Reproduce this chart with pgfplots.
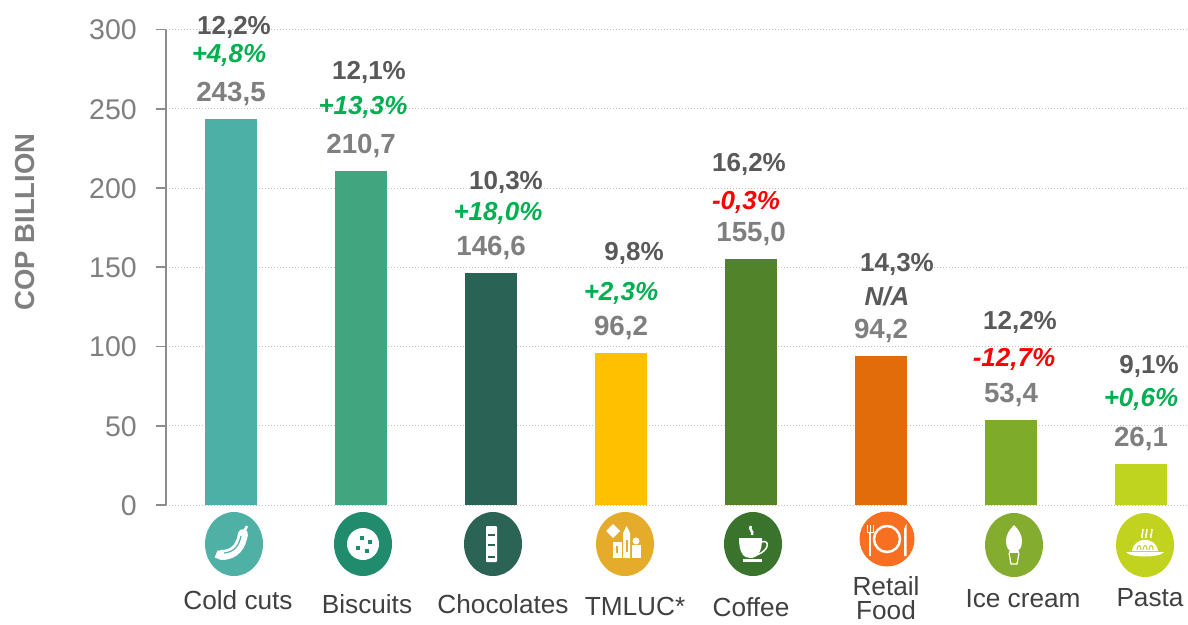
\documentclass[border=0pt]{standalone}
\usepackage{fontspec}
\setmainfont{Liberation Sans}
\usepackage{pgfplots}
\pgfplotsset{compat=1.18}
\definecolor{valgrey}{HTML}{7F7F7F}
\definecolor{pctgrey}{HTML}{595959}
\definecolor{catgrey}{HTML}{404040}
\definecolor{posgreen}{HTML}{00B050}
\newcommand{\fs}[1]{\fontsize{#1}{#1}\selectfont}
\newcommand{\share}[3]{\node[text=pctgrey,font=\bfseries\fs{26}] at (#1,#2+2) {#3};}
\newcommand{\chg}[4]{\node[text=#4,font=\bfseries\itshape\fs{26}] at (#1,#2+2) {#3};}
\newcommand{\cat}[3]{\node[text=catgrey,font=\fs{26.2},inner sep=0pt] at (#1,#2) {#3};}
\begin{document}
\begin{tikzpicture}
\useasboundingbox (0pt,0pt) rectangle (1188pt,-624pt);
\begin{axis}[
  at={(166pt,-505pt)}, anchor=south west,
  scale only axis, width=1022pt, height=475.5pt,
  xmin=-0.5, xmax=7.3615, ymin=0, ymax=300,
  clip=false,
  axis x line*=bottom, axis y line*=left,
  x axis line style={-, draw=black!25, line width=1pt, dotted},
  y axis line style={-, draw=black!45, line width=1.6pt},
  xtick=\empty,
  ytick={0,50,100,150,200,250,300},
  ymajorgrids,
  grid style={draw=black!25, line width=1pt, dotted},
  ytick style={draw=black!45, line width=1.6pt},
  tick align=outside, major tick length=10pt,
  /pgf/number format/assume math mode=true,
  yticklabel style={text=valgrey, font=\fs{28.5}, inner sep=0pt, xshift=-19pt, yshift=-0.5pt},
  ybar, bar shift=0pt, bar width=52pt,
  nodes near coords,
  every node near coord/.append style={
    anchor=center, yshift=25pt, text=valgrey, font=\bfseries\fs{27.7},
    /pgf/number format/fixed, /pgf/number format/fixed zerofill,
    /pgf/number format/precision=1, /pgf/number format/use comma},
]
\addplot[draw=none, fill={rgb,255:red,77;green,176;blue,166}] coordinates {(0,243.5)};
\addplot[draw=none, fill={rgb,255:red,65;green,165;blue,128}] coordinates {(1,210.7)};
\addplot[draw=none, fill={rgb,255:red,42;green,99;blue,86}] coordinates {(2,146.6)};
\addplot[draw=none, fill={rgb,255:red,255;green,192;blue,0}] coordinates {(3,96.2)};
\addplot[draw=none, fill={rgb,255:red,81;green,131;blue,42}] coordinates {(4,155.0)};
\addplot[draw=none, fill={rgb,255:red,227;green,108;blue,10}] coordinates {(5,94.2)};
\addplot[draw=none, fill={rgb,255:red,127;green,171;blue,43}] coordinates {(6,53.4)};
\addplot[draw=none, fill={rgb,255:red,190;green,212;blue,30}] coordinates {(7,26.1)};
\end{axis}
\begin{scope}[x=1pt,y=-1pt]
\node[rotate=90,text=valgrey,font=\bfseries\fs{27.5}] at (25,222) {COP BILLION};
% shares
\share{234}{25}{12,2\%}
\share{369}{70}{12,1\%}
\share{506}{180}{10,3\%}
\share{634}{251}{9,8\%}
\share{749}{162}{16,2\%}
\share{897}{262}{14,3\%}
\share{1020}{320}{12,2\%}
\share{1149}{364}{9,1\%}
% changes
\chg{229}{53}{+4,8\%}{posgreen}
\chg{363}{105}{+13,3\%}{posgreen}
\chg{498}{211}{+18,0\%}{posgreen}
\chg{621}{291}{+2,3\%}{posgreen}
\chg{746}{200}{-0,3\%}{red}
\chg{887}{294}{N/A}{pctgrey}
\chg{1014}{357}{-12,7\%}{red}
\chg{1141}{397}{+0,6\%}{posgreen}
% categories
\cat{238}{600}{Cold cuts}
\cat{367}{604}{Biscuits}
\cat{503}{604}{Chocolates}
\cat{635}{606}{TMLUC*}
\cat{751}{607}{Coffee}
\cat{886}{586}{Retail}
\cat{886}{610}{Food}
\cat{1023}{599}{Ice cream}
\cat{1150}{598}{Pasta}
% icon discs
\fill[fill={rgb,255:red,79;green,176;blue,165}] (234,544) ellipse (29 and 32);
\fill[fill={rgb,255:red,33;green,139;blue,110}] (363,544) ellipse (29 and 32);
\fill[fill={rgb,255:red,43;green,99;blue,85}] (493,544) ellipse (29 and 32);
\fill[fill={rgb,255:red,229;green,172;blue,43}] (625,544) ellipse (29 and 32);
\fill[fill={rgb,255:red,58;green,115;blue,44}] (753,544) ellipse (29 and 32);
\fill[fill={rgb,255:red,247;green,112;blue,33}] (887,539) ellipse (27.5 and 27.5);
\fill[fill={rgb,255:red,132;green,172;blue,46}] (1014,545) ellipse (29 and 32);
\fill[fill={rgb,255:red,193;green,210;blue,31}] (1145,545) ellipse (29 and 32);
% sausage
\draw[white,line width=10pt,line cap=round] (221,555) .. controls (236,555) and (241,545) .. (243,534);
\draw[white,line width=2.5pt] (244,532) -- (247,526);
\draw[white,line width=3pt] (219,551) -- (216,558);
\draw[draw={rgb,255:red,79;green,176;blue,165},line width=1.2pt] (224,553) .. controls (234,552) and (239,546) .. (241,536);
% cookie
\fill[white] (363,544) circle (16);
\foreach \a/\b in {362/538,370/542,358/548,367/551}
  \fill[fill={rgb,255:red,33;green,139;blue,110}] (\a-2,\b-2) rectangle (\a+2,\b+2);
% chocolate bar
\fill[white,rounded corners=1pt] (486,526) rectangle (497,562);
\foreach \b in {535,545,557}
  \fill[fill={rgb,255:red,43;green,99;blue,85}] (488,\b-1) rectangle (495,\b+1);
% TMLUC boxes
\fill[white] (613,524) -- (620,531) -- (613,538) -- (606,531) -- cycle;
\fill[white] (613,542) rectangle (622,558);
\fill[white] (623,533) -- (626.5,526) -- (630,533) -- (630,558) -- (623,558) -- cycle;
\fill[white] (636,541) circle (3.5);
\fill[white] (632,545) rectangle (641,558);
\fill[fill={rgb,255:red,229;green,172;blue,43}] (625.5,540) rectangle (627.5,552);
\fill[fill={rgb,255:red,229;green,172;blue,43}] (616,546) rectangle (618,553);
% coffee
\fill[white] (739,538) -- (762,538) .. controls (762,552) and (758,558) .. (750,558) .. controls (743,558) and (739,552) .. (739,538) -- cycle;
\draw[white,line width=1.5pt] (761,542) .. controls (770,539) and (770,550) .. (757,555);
\fill[white] (743,559) rectangle (762,562);
\draw[white,line width=2.5pt] (751,526) .. controls (748,529) and (754,531) .. (752,535);
% plate
\draw[white,line width=2.5pt] (887,539) circle (13);
\draw[white,line width=2pt] (870,532) -- (870,556);
\draw[white,line width=1pt] (867,525) -- (867,532) -- (873,532) -- (873,525);
\draw[white,line width=1pt] (870,525) -- (870,532);
\fill[white] (904,556) -- (904,532) .. controls (904,528) and (905,525) .. (906.5,524) -- (906.5,556) -- cycle;
% ice cream
\fill[white] (1014,525) .. controls (1019,530) and (1022,535) .. (1022,541) .. controls (1022,548) and (1019,552) .. (1014,552) .. controls (1009,552) and (1006,548) .. (1006,541) .. controls (1006,535) and (1009,530) .. (1014,525) -- cycle;
\fill[white] (1009,551) rectangle (1019,553);
\draw[white,line width=1.2pt] (1009,553) -- (1011,564) -- (1017,564) -- (1019,553);
% pasta
\fill[white] (1126,552) -- (1164,552) .. controls (1160,558) and (1130,558) .. (1126,552) -- cycle;
\fill[white] (1132,551) .. controls (1134,536) and (1156,536) .. (1158,551) -- cycle;
\foreach \a/\b in {1137/1141,1143/1147,1149/1153}
  \draw[draw={rgb,255:red,193;green,210;blue,31},line width=1pt] (\a,550) .. controls (\a,545) and (\b,543) .. (\b,550);
\foreach \a in {1142,1146,1151}
  \draw[white,line width=1.5pt] (\a,538) .. controls (\a-1,534) and (\a+2,532) .. (\a+1,529);
\end{scope}
\end{tikzpicture}
\end{document}
